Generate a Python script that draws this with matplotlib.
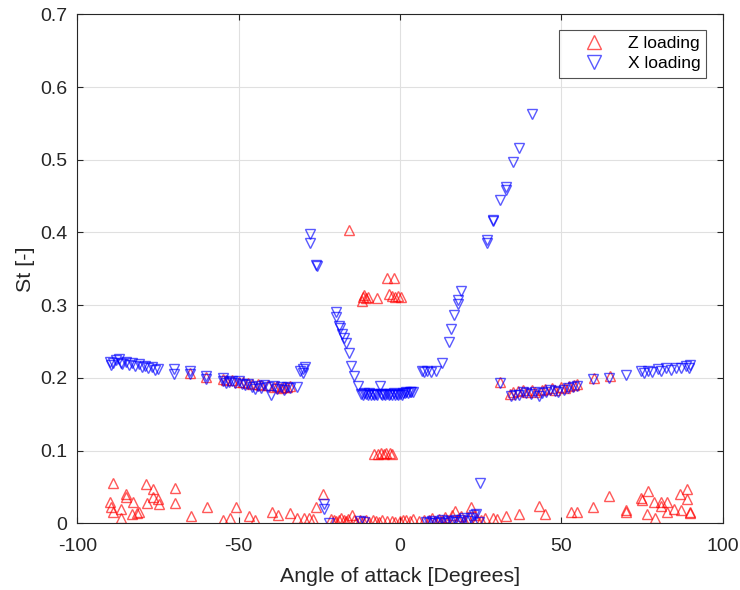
import matplotlib
matplotlib.use("Agg")
import matplotlib.pyplot as plt

plt.rcParams['font.family'] = ['Liberation Sans', 'DejaVu Sans']

# Strouhal number vs. angle of attack, Z loading
z_angle = [
    -89.8, -89.5, -89.0, -88.8, -86.6, -86.6, -85.0, -84.8, -82.8, -83.1, -81.5, -81.0,
    -78.7, -78.4, -76.6, -76.6, -74.9, -74.6, -69.8, -69.8, -64.8, -59.9, -54.7, -52.7,
    -50.9, -46.8, -44.8, -39.8, -37.9, -34.2, -31.9, -29.8, -28.2, -27.0, -25.9, -23.9,
    -21.5, -20.5, -19.8, -19.0, -18.2, -17.5, -16.8, -16.0, -15.0, -14.2, -13.5, -12.5,
    -11.5, -10.5, -9.5, -8.5, -7.5, -6.5, -5.5, -4.0, -2.5, -1.5, 0.0, 1.0, 2.0, 3.0, 4.0,
    6.0, 7.5, 9.0, 10.0, 11.0, 12.0, 13.0, 14.0, 15.0, 16.0, 17.0, 18.0, 19.0, 20.0, 21.0,
    22.0, 23.0, 24.0, 25.0, 26.5, 28.8, 30.0, 32.9, 37.0, 43.0, 44.8, 53.0, 55.0, 59.9,
    64.8, 70.0, 70.0, 74.8, 75.0, 77.0, 76.6, 78.9, 78.7, 80.8, 81.0, 82.8, 82.8, 84.9,
    86.9, 87.0, 89.0, 89.0, 90.0, 90.0,
    -15.9, -4.1, -1.8, -11.8, -11.5, -11.0, -10.5, -10.0, -7.0, -3.5, -2.5, -1.5, -0.5, 0.2,
    -8.2, -6.8, -5.8, -5.0, -4.2, -3.2, -2.6,
    -65.0, -60.0, -55.0, -54.0, -52.0, -50.0, -48.5, -47.0, -46.0, -44.0, -43.0, -41.0,
    -39.0, -38.0, -37.0, -36.0, -35.0, -34.0,
    30.9, 34.0, 35.0, 36.5, 38.0, 39.5, 41.0, 42.0, 44.0, 45.0, 47.0, 48.0, 50.0, 51.0,
    52.5, 54.0, 55.0, 60.0, 65.0,
]
z_st = [
    0.030, 0.022, 0.015, 0.055, 0.020, 0.008, 0.040, 0.036, 0.030, 0.013, 0.014, 0.015,
    0.054, 0.028, 0.047, 0.036, 0.034, 0.027, 0.048, 0.028, 0.010, 0.022, 0.004, 0.008,
    0.022, 0.010, 0.005, 0.016, 0.012, 0.014, 0.008, 0.008, 0.007, 0.006, 0.022, 0.041,
    0.006, 0.004, 0.003, 0.005, 0.008, 0.004, 0.003, 0.006, 0.011, 0.004, 0.002, 0.005,
    0.003, 0.004, 0.002, 0.005, 0.003, 0.002, 0.004, 0.003, 0.003, 0.002, 0.003, 0.005, 0.004, 0.003, 0.006,
    0.003, 0.005, 0.004, 0.008, 0.003, 0.006, 0.004, 0.009, 0.005, 0.012, 0.017, 0.006, 0.010, 0.004, 0.008,
    0.022, 0.012, 0.006, 0.004, 0.007, 0.008, 0.006, 0.010, 0.0125, 0.024, 0.0125, 0.016, 0.016, 0.023,
    0.038, 0.018, 0.016, 0.035, 0.032, 0.045, 0.0135, 0.0076, 0.030, 0.030, 0.024, 0.030, 0.016, 0.020,
    0.040, 0.018, 0.047, 0.033, 0.016, 0.014,
    0.404, 0.337, 0.337, 0.306, 0.311, 0.314, 0.310, 0.311, 0.310, 0.315, 0.313, 0.311, 0.312, 0.311,
    0.096, 0.096, 0.097, 0.096, 0.097, 0.097, 0.096,
    0.207, 0.201, 0.199, 0.197, 0.197, 0.195, 0.194, 0.193, 0.191, 0.191, 0.190, 0.190,
    0.187, 0.189, 0.186, 0.188, 0.187, 0.189,
    0.195, 0.178, 0.180, 0.182, 0.184, 0.181, 0.184, 0.180, 0.183, 0.185, 0.186, 0.184, 0.187, 0.186,
    0.189, 0.190, 0.192, 0.200, 0.202,
]

# Strouhal number vs. angle of attack, X loading
x_angle = [
    -90.0, -89.5, -89.0, -88.0, -87.0, -86.5, -86.0, -85.0, -84.0, -83.0, -82.0, -81.0,
    -80.0, -79.0, -78.0, -77.0, -76.0, -75.0, -70.0, -70.0, -65.0, -65.0, -60.0, -60.0,
    -55.0, -55.0, -54.0, -53.0, -52.0, -51.0, -50.0, -49.0, -48.0, -47.0, -46.0, -45.0,
    -44.0, -43.0, -42.0, -41.0, -40.0, -39.0, -38.0, -37.0, -36.0, -35.0, -34.0, -32.0,
    -31.0, -30.0, -29.5, -30.0,
    -27.8, -27.8, -25.9, -25.8,
    -19.8, -19.7, -19.0, -18.6, -18.0, -17.5, -16.8, -15.9, -15.1, -14.1, -12.9,
    -12.0, -11.5, -11.0, -10.5, -10.0, -9.5, -9.0, -8.5, -8.0, -7.5, -7.0, -6.2, -6.0,
    -5.5, -5.0, -4.5, -4.0, -3.5, -3.0, -2.5, -2.0, -1.5, -1.0, -0.5, 0.0, 0.5, 1.0,
    1.5, 2.0, 2.5, 3.0, 3.5, 4.0,
    6.7, 7.5, 8.5, 9.5, 11.3, 12.9, 15.1, 15.9, 16.8, 18.0, 18.0, 19.0, 24.9, 26.9,
    27.0, 28.8, 28.9, 30.9, 32.9, 33.0, 35.0, 36.8, 41.0,
    30.9, 34.5, 35.5, 37.0, 38.0, 39.1, 40.5, 42.0, 43.2, 44.0, 45.3, 46.5, 48.0, 49.0,
    50.9, 52.0, 53.5, 55.0, 59.7, 64.8, 70.0, 74.6, 75.5, 77.0, 78.0, 80.0, 81.0, 82.5,
    84.0, 85.5, 87.0, 88.5, 90.0, 89.5,
    -23.7, -23.5, -22.1, -12.5, -11.0, 8.0, 9.0, 10.0, 11.0, 12.0, 13.0, 14.0, 15.0,
    16.0, 17.0, 18.0, 19.0, 20.0, 21.0, 22.0, 23.0, 23.7, 24.5,
]
x_st = [
    0.222, 0.218, 0.220, 0.224, 0.226, 0.221, 0.219, 0.222, 0.218, 0.220, 0.217, 0.219,
    0.215, 0.216, 0.213, 0.215, 0.211, 0.212, 0.212, 0.205, 0.210, 0.205, 0.202, 0.198,
    0.200, 0.196, 0.193, 0.195, 0.196, 0.193, 0.196, 0.192, 0.190, 0.192, 0.188, 0.185,
    0.189, 0.186, 0.190, 0.187, 0.176, 0.189, 0.185, 0.188, 0.184, 0.187, 0.186, 0.188,
    0.210, 0.212, 0.215, 0.207,
    0.398, 0.385, 0.355, 0.354,
    0.290, 0.284, 0.272, 0.268, 0.260, 0.255, 0.248, 0.234, 0.217, 0.202, 0.1885,
    0.178, 0.177, 0.179, 0.178, 0.176, 0.179, 0.177, 0.178, 0.176, 0.178, 0.177, 0.1885, 0.178,
    0.176, 0.178, 0.177, 0.178, 0.176, 0.178, 0.177, 0.179, 0.177, 0.178, 0.177, 0.178, 0.177, 0.179,
    0.179, 0.180, 0.179, 0.180, 0.181, 0.181,
    0.210, 0.208, 0.209, 0.208, 0.210, 0.220, 0.250, 0.267, 0.287, 0.302, 0.307, 0.319, 0.055, 0.389,
    0.386, 0.417, 0.416, 0.445, 0.462, 0.458, 0.497, 0.516, 0.563,
    0.193, 0.175, 0.177, 0.176, 0.180, 0.179, 0.178, 0.181, 0.175, 0.179, 0.181, 0.183, 0.182, 0.181,
    0.184, 0.186, 0.187, 0.189, 0.198, 0.200, 0.2045, 0.209, 0.207, 0.210, 0.208, 0.212, 0.209, 0.213,
    0.211, 0.214, 0.213, 0.216, 0.218, 0.214,
    0.026, 0.020, 0.001, 0.003, 0.002, 0.002, 0.001, 0.003, 0.001, 0.002, 0.004, 0.001, 0.003,
    0.002, 0.005, 0.002, 0.004, 0.007, 0.003, 0.008, 0.011, 0.013, 0.002,
]

x_ticks = [-100, -50, 0, 50, 100]
y_ticks = [0, 0.1, 0.2, 0.3, 0.4, 0.5, 0.6, 0.7]

fig = plt.figure(figsize=(7.4, 5.9), dpi=100)
ax = fig.add_axes([0.1045, 0.113, 0.872, 0.8627])

red = (1.0, 0.0, 0.0, 0.65)
blue = (0.0, 0.0, 1.0, 0.65)
ink = '#262626'

ax.plot(z_angle, z_st, linestyle='none', marker='^', markersize=7.3,
        markerfacecolor='none', markeredgecolor=red, markeredgewidth=1.0,
        label='Z loading')
ax.plot(x_angle, x_st, linestyle='none', marker='v', markersize=7.3,
        markerfacecolor='none', markeredgecolor=blue, markeredgewidth=1.0,
        label='X loading')

ax.set_xlim(-100, 100)
ax.set_ylim(0, 0.7)
ax.set_xticks(x_ticks)
ax.set_yticks(y_ticks)
ax.set_xticklabels([str(t) for t in x_ticks])
ax.set_yticklabels([f"{t:g}" for t in y_ticks])

ax.grid(True, color='#e0e0e0', linewidth=0.8)
ax.set_axisbelow(True)
for side in ['top', 'right', 'bottom', 'left']:
    ax.spines[side].set_color(ink)
    ax.spines[side].set_linewidth(0.8)
ax.tick_params(direction='in', length=4, width=0.8, colors=ink,
               labelsize=14, top=True, right=True)
ax.tick_params(axis='x', pad=10.5)
ax.tick_params(axis='y', pad=7)

ax.set_xlabel('Angle of attack [Degrees]', fontsize=15.4, color=ink, labelpad=9)
ax.set_ylabel('St [-]', fontsize=15.4, color=ink, labelpad=3.5)

leg = ax.legend(loc='upper right', bbox_to_anchor=(0.975, 0.969), borderaxespad=0,
                fontsize=12.6, frameon=True, fancybox=False, edgecolor=ink,
                handlelength=3.3, handletextpad=0.26, borderpad=0.35,
                labelspacing=0.27, markerscale=1.45)
leg.get_frame().set_linewidth(0.8)

fig.savefig('out.png', dpi=100)
